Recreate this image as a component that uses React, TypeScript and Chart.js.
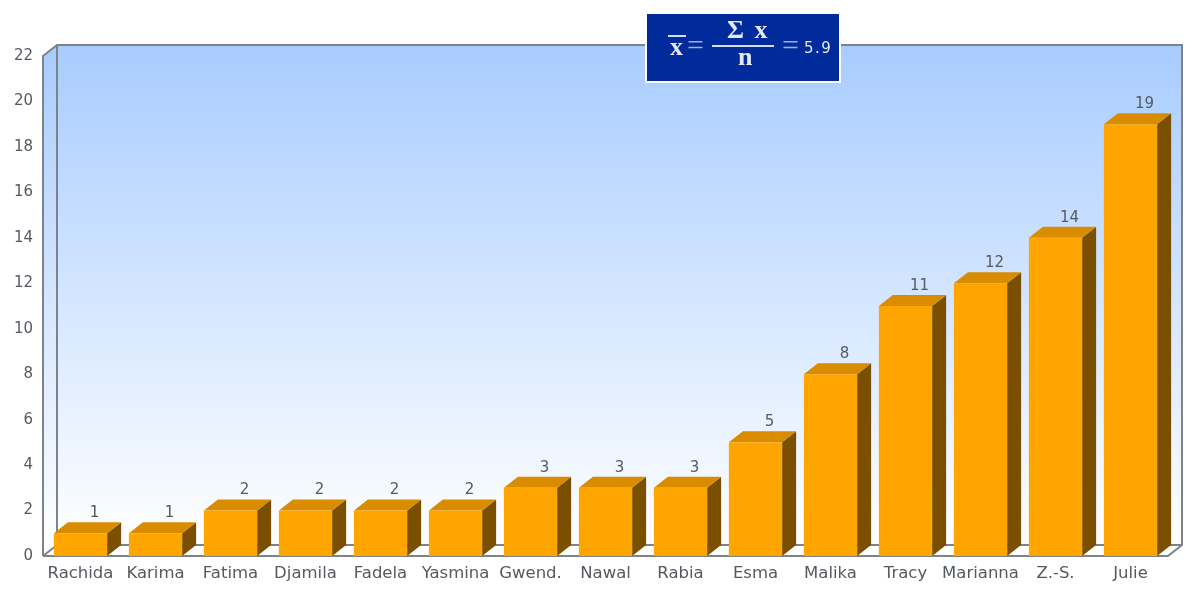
import React, { useEffect, useRef } from "react";
import { Chart, registerables } from "chart.js";

Chart.register(...registerables);

const names = ["Rachida", "Karima", "Fatima", "Djamila", "Fadela", "Yasmina", "Gwend.", "Nawal", "Rabia", "Esma", "Malika", "Tracy", "Marianna", "Z.-S.", "Julie"];
const counts = [1, 1, 2, 2, 2, 2, 3, 3, 3, 5, 8, 11, 12, 14, 19];
const yMax = 22;
const yStep = 2;

const DX = 14;
const DY = 11;
const FONT = '"DejaVu Sans", sans-serif';
const TEXT = "#555a60";
const FRAME = "#7d8388";

const cube3d = {
  id: "cube3d",
  beforeDatasetsDraw(chart: any) {
    const { ctx, chartArea: a } = chart;
    ctx.save();
    const wall = ctx.createLinearGradient(0, a.top - DY, 0, a.bottom - DY);
    wall.addColorStop(0, "#a8ccff");
    wall.addColorStop(1, "#ffffff");
    ctx.fillStyle = wall;
    ctx.fillRect(a.left + DX, a.top - DY, a.right - a.left, a.bottom - a.top);
    ctx.beginPath();
    ctx.moveTo(a.left, a.top);
    ctx.lineTo(a.left + DX, a.top - DY);
    ctx.lineTo(a.left + DX, a.bottom - DY);
    ctx.lineTo(a.left, a.bottom);
    ctx.closePath();
    ctx.fill();
    ctx.strokeStyle = FRAME;
    ctx.lineWidth = 2;
    ctx.beginPath();
    ctx.moveTo(a.left, a.bottom);
    ctx.lineTo(a.left, a.top);
    ctx.lineTo(a.left + DX, a.top - DY);
    ctx.lineTo(a.right + DX, a.top - DY);
    ctx.lineTo(a.right + DX, a.bottom - DY);
    ctx.lineTo(a.right, a.bottom);
    ctx.lineTo(a.left, a.bottom);
    ctx.moveTo(a.left + DX, a.top - DY);
    ctx.lineTo(a.left + DX, a.bottom - DY);
    ctx.lineTo(a.right + DX, a.bottom - DY);
    ctx.moveTo(a.left + DX, a.bottom - DY);
    ctx.lineTo(a.left, a.bottom);
    ctx.stroke();
    chart.getDatasetMeta(0).data.forEach((bar: any) => {
      const r = bar.x + bar.width / 2;
      const l = bar.x - bar.width / 2;
      const t = bar.y;
      const b = bar.base;
      ctx.fillStyle = "#7a5000";
      ctx.beginPath();
      ctx.moveTo(r, t);
      ctx.lineTo(r + DX, t - DY);
      ctx.lineTo(r + DX, b - DY);
      ctx.lineTo(r, b);
      ctx.closePath();
      ctx.fill();
      ctx.fillStyle = "#d98c00";
      ctx.beginPath();
      ctx.moveTo(l, t);
      ctx.lineTo(l + DX, t - DY);
      ctx.lineTo(r + DX, t - DY);
      ctx.lineTo(r, t);
      ctx.closePath();
      ctx.fill();
    });
    ctx.restore();
  },
  afterDatasetsDraw(chart: any) {
    const { ctx } = chart;
    ctx.save();
    ctx.fillStyle = TEXT;
    ctx.font = `15px ${FONT}`;
    ctx.textAlign = "center";
    ctx.textBaseline = "middle";
    chart.getDatasetMeta(0).data.forEach((bar: any, i: number) => {
      ctx.fillText(String(counts[i]), bar.x + DX, bar.y - 20);
    });
    ctx.restore();
  },
};

export default function App() {
  const ref = useRef<HTMLCanvasElement>(null);
  useEffect(() => {
    const chart = new Chart(ref.current as HTMLCanvasElement, {
      type: "bar",
      data: {
        labels: names,
        datasets: [{ data: counts, backgroundColor: "#ffa500", borderWidth: 0, barPercentage: 0.71, categoryPercentage: 1 }],
      },
      options: {
        responsive: false,
        animation: false,
        layout: { padding: { top: 56, right: 24, left: 0, bottom: 0 } },
        plugins: { legend: { display: false }, tooltip: { enabled: false } },
        scales: {
          x: {
            grid: { display: false },
            border: { display: false },
            afterFit: (s: any) => { s.height = 41; },
            ticks: { color: TEXT, font: { family: FONT, size: 16.5 }, maxRotation: 0, autoSkip: false, padding: 0 },
          },
          y: {
            min: 0,
            max: yMax,
            grid: { display: false },
            border: { display: false },
            afterFit: (s: any) => { s.width = 43; },
            ticks: { stepSize: yStep, color: TEXT, font: { family: FONT, size: 15 }, padding: 2 },
          },
        },
      },
      plugins: [cube3d],
    } as any);
    return () => chart.destroy();
  }, []);

  const eq: React.CSSProperties = { position: "absolute", top: 18, fontSize: 30, lineHeight: "26px", fontWeight: "normal", color: "#9fb0de" };
  return (
    <div style={{ position: "absolute", left: 0, top: 0, width: 1192, height: 597, background: "#fff", overflow: "hidden" }}>
      <canvas ref={ref} width={1192} height={597} style={{ display: "block", filter: "blur(0.7px)" }} />
      <div
        style={{
          position: "absolute", left: 645, top: 12, width: 192, height: 67,
          background: "#012a9b", border: "2px solid #fff", color: "#e4e9f5",
          fontFamily: '"Liberation Serif", serif', fontWeight: "bold", filter: "blur(0.6px)",
        }}
      >
        <span style={{ position: "absolute", left: 23, top: 18, fontSize: 26, lineHeight: "30px" }}>x</span>
        <span style={{ position: "absolute", left: 21, top: 21, width: 18, height: 2, background: "#d5dcef" }} />
        <span style={{ ...eq, left: 40 }}>=</span>
        <span style={{ position: "absolute", left: 80, top: 1, fontSize: 26, lineHeight: "30px", whiteSpace: "nowrap", letterSpacing: 2 }}>Σ x</span>
        <span style={{ position: "absolute", left: 65, top: 31, width: 62, height: 2, background: "#d5dcef" }} />
        <span style={{ position: "absolute", left: 91, top: 28, fontSize: 26, lineHeight: "30px" }}>n</span>
        <span style={{ ...eq, left: 135 }}>=</span>
        <span style={{ position: "absolute", left: 157, top: 24, fontSize: 15, lineHeight: "20px", fontFamily: FONT, fontWeight: "normal", letterSpacing: 1.5 }}>5.9</span>
      </div>
    </div>
  );
}
